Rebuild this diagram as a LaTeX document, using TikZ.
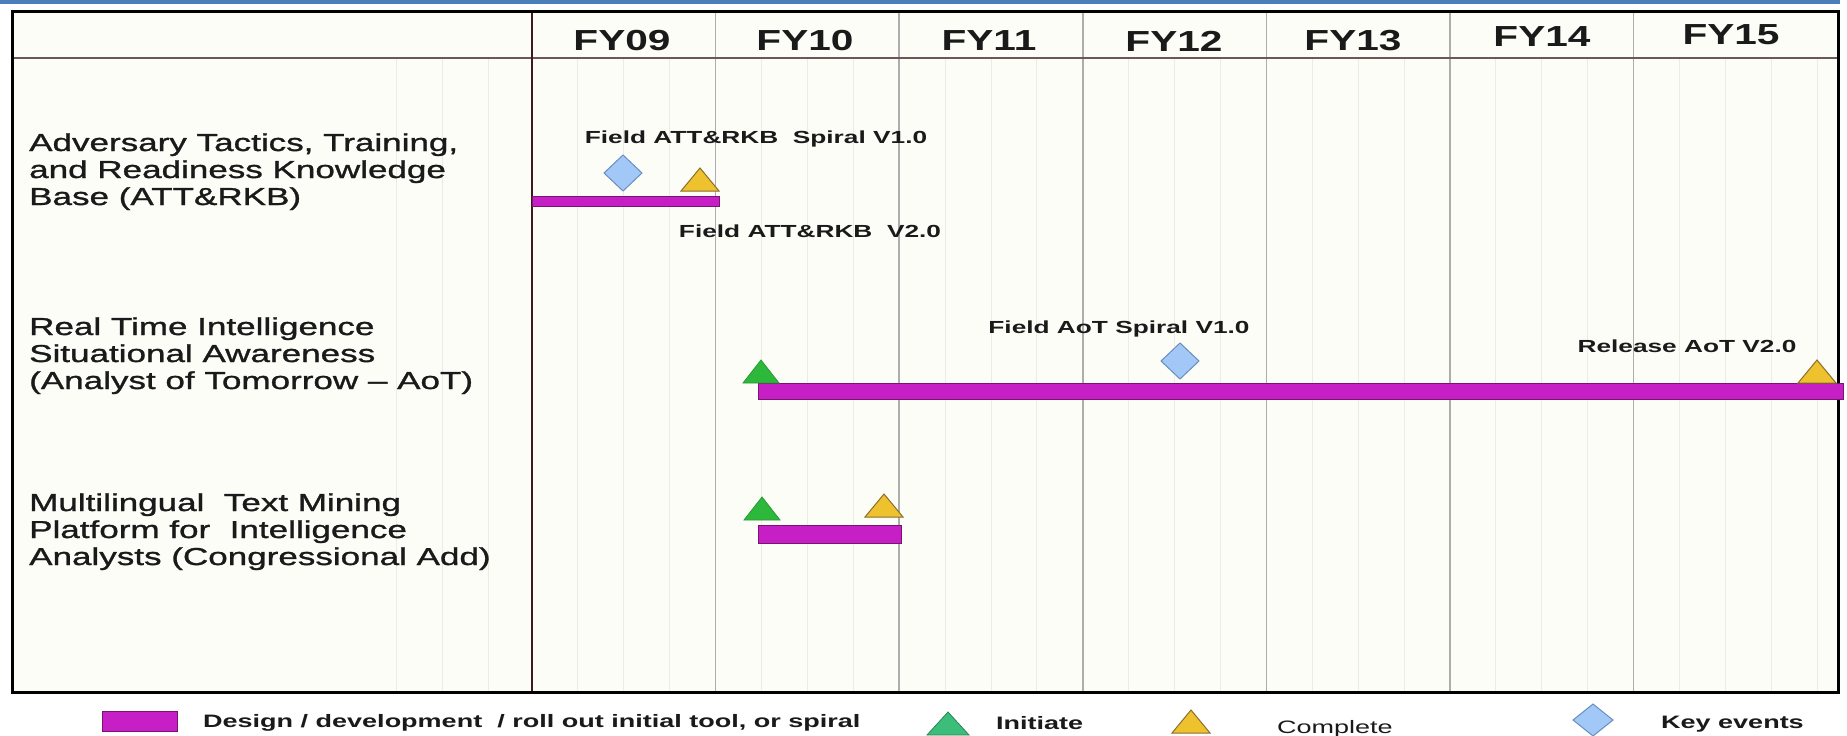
\documentclass[tikz,border=0pt]{standalone}
\usepackage{fontspec}
\setmainfont{Liberation Sans}
\newfontfamily\lblfont[FakeStretch=1.4]{Liberation Sans}
\newfontfamily\rowfont[FakeStretch=1.43,FakeBold=1.2]{Liberation Sans}
\newfontfamily\annfont[FakeStretch=1.5]{Liberation Sans}
\definecolor{bandblue}{HTML}{4A7EBB}
\definecolor{tablebg}{HTML}{FDFDF8}
\definecolor{textdark}{HTML}{1A1A1A}
\definecolor{barmag}{HTML}{C61FC6}
\definecolor{barborder}{HTML}{7A1470}
\definecolor{initgreen}{HTML}{2DB83C}
\definecolor{leggreen}{HTML}{3CBE7A}
\definecolor{compgold}{HTML}{EEC22E}
\definecolor{compborder}{HTML}{8C6E2C}
\definecolor{keyblue}{HTML}{A2C8F8}
\definecolor{keyborder}{HTML}{6A8CC0}
\definecolor{yearline}{HTML}{ADADAD}
\definecolor{qtrline}{HTML}{ECECE4}
\definecolor{headline}{HTML}{6B5858}
\definecolor{lbldiv}{HTML}{3C1C1C}
\begin{document}
\begin{tikzpicture}[x=1pt,y=-1pt,
  barstyle/.style={fill=barmag, draw=barborder, line width=1pt},
  initstyle/.style={fill=initgreen, draw=initgreen!85!black, line width=0.8pt},
  leginit/.style={fill=leggreen, draw=leggreen!70!black, line width=0.8pt},
  compstyle/.style={fill=compgold, draw=compborder, line width=1pt},
  keystyle/.style={fill=keyblue, draw=keyborder, line width=1pt},
  qline/.style={draw=qtrline, line width=1pt},
  yline/.style={draw=yearline, line width=1.5pt},
  fyhead/.style={font=\lblfont\bfseries\fontsize{29}{33}\selectfont, text=textdark, inner sep=0pt, anchor=center},
  rowlbl/.style={font=\rowfont\fontsize{24.5}{27}\selectfont, text=textdark, inner sep=0pt, anchor=base west},
  annot/.style={font=\annfont\bfseries\fontsize{17.5}{20}\selectfont, text=textdark, inner sep=0pt, anchor=base},
  legtxt/.style={font=\annfont\bfseries\fontsize{18}{20}\selectfont, text=textdark, inner sep=0pt, anchor=base west},
  initri/.pic={\path[initstyle] (-18,0) -- (0,-23) -- (18,0) -- cycle;},
  legtri/.pic={\path[leginit] (-21,0) -- (0,-23) -- (21,0) -- cycle;},
  comptri/.pic={\path[compstyle] (-19,0) -- (0,-23) -- (19,0) -- cycle;},
  keydia/.pic={\path[keystyle] (0,-18) -- (19,0) -- (0,18) -- (-19,0) -- cycle;}
]
\useasboundingbox (0,0) rectangle (1847,736);
\fill[white] (0,0) rectangle (1847,736);
% top band
\fill[bandblue] (0,0) rectangle (1840,4);
% table background
\fill[tablebg] (12,11) rectangle (1838,692);
% faint quarter lines
\foreach \x in {396,442,488} {\draw[qline] (\x,58) -- (\x,692);}
\foreach \k in {0,...,6} {
  \foreach \j in {1,2,3} {
    \draw[qline] ({532+183.6*\k+45.9*\j},58) -- ({532+183.6*\k+45.9*\j},692);
  }
}
\draw[qline] (1817,58) -- (1817,692);
% year dividers
\foreach \k in {1,...,6} {\draw[yline] ({532+183.6*\k},11) -- ({532+183.6*\k},692);}
% header line and label divider
\draw[headline, line width=2pt] (12,58) -- (1838,58);
\draw[lbldiv, line width=2pt] (532,11) -- (532,692);
% outer border
\draw[black, line width=3pt] (12,11) rectangle (1838,692);

% header texts
\node[fyhead] (fy09) at (622,41) {FY09};
\node[fyhead] (fy10) at (805,41) {FY10};
\node[fyhead] (fy11) at (989,41) {FY11};
\node[fyhead] (fy12) at (1174,41) {FY12};
\node[fyhead] (fy13) at (1353,41) {FY13};
\node[fyhead] (fy14) at (1542,37) {FY14};
\node[fyhead] (fy15) at (1731,35) {FY15};

% row labels
\node[rowlbl] (r1a) at (29,151) {Adversary Tactics, Training,};
\node[rowlbl] (r1b) at (29,178) {and Readiness Knowledge};
\node[rowlbl] (r1c) at (29,205) {Base (ATT\&RKB)};
\node[rowlbl] (r2a) at (29,335) {Real Time Intelligence};
\node[rowlbl] (r2b) at (29,362) {Situational Awareness};
\node[rowlbl] (r2c) at (29,389) {(Analyst of Tomorrow – AoT)};
\node[rowlbl] (r3a) at (29,511) {Multilingual\ \ Text Mining};
\node[rowlbl] (r3b) at (29,538) {Platform for\ \ Intelligence};
\node[rowlbl] (r3c) at (29,565) {Analysts (Congressional Add)};

% bars
\draw[barstyle] (532,196) rectangle (719,206);
\draw[barstyle] (758,383) rectangle (1843,399);
\draw[barstyle] (758,525) rectangle (901,543);

% milestones row 1
\pic at (623,173) {keydia};
\pic at (700,191) {comptri};
% row 2
\pic at (761,383) {initri};
\pic at (1180,361) {keydia};
\pic at (1817,383) {comptri};
% row 3
\pic at (762,520) {initri};
\pic at (884,517) {comptri};

% annotations
\node[annot] (a1) at (756,143) {Field ATT\&RKB\ \ Spiral V1.0};
\node[annot] (a2) at (810,237) {Field ATT\&RKB\ \ V2.0};
\node[annot] (a3) at (1119,333) {Field AoT Spiral V1.0};
\node[annot] (a4) at (1687,352) {Release AoT V2.0};

% legend
\draw[barstyle] (102,711) rectangle (177,731);
\node[legtxt] (l1) at (203,727) {Design / development\ \ / roll out initial tool, or spiral};
\pic at (948,735) {legtri};
\node[legtxt] (l2) at (996,729) {Initiate};
\pic at (1191,733) {comptri};
\node[legtxt, font=\annfont\fontsize{18}{20}\selectfont] (l3) at (1277,733) {Complete};
\path[keystyle] (1593,704) -- (1613,720) -- (1593,736) -- (1573,720) -- cycle;
\node[legtxt] (l4) at (1661,728) {Key events};
\end{tikzpicture}
\end{document}
